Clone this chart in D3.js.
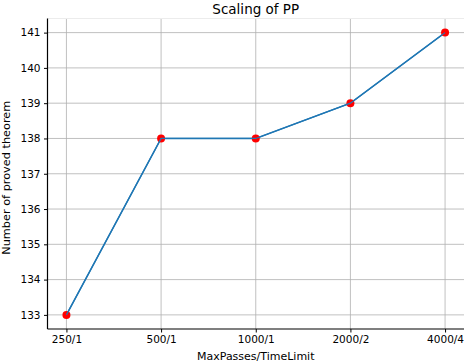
<!DOCTYPE html>
<html><head><meta charset="utf-8">
<script src="https://cdn.jsdelivr.net/npm/d3@7"></script>
<style>body{margin:0;background:#fff}svg{display:block}text{font-family:"DejaVu Sans",sans-serif;fill:#000}</style>
</head><body><svg id="c" width="466" height="364"></svg>
<script>
const categories = ["250/1","500/1","1000/1","2000/2","4000/4"];
const values = [133,138,138,139,141];
const yTicks = [133,134,135,136,137,138,139,140,141];
const title = "Scaling of PP";
const xLabel = "MaxPasses/TimeLimit";
const yLabel = "Number of proved theorem";

const svg = d3.select("#c");
const L = 47.5, R = 464, T = 18.5, B = 329;
const x = d3.scaleLinear().domain([-0.2, categories.length - 1 + 0.2]).range([L, R]);
const y = d3.scaleLinear().domain([132.6, 141.4]).range([B, T]);

// grid
svg.append("g").selectAll("line").data(categories).join("line")
  .attr("x1",(d,i)=>x(i)).attr("x2",(d,i)=>x(i)).attr("y1",T).attr("y2",B)
  .attr("stroke","#b0b0b0").attr("stroke-width",0.8);
svg.append("g").selectAll("line").data(yTicks).join("line")
  .attr("x1",L).attr("x2",R).attr("y1",d=>y(d)).attr("y2",d=>y(d))
  .attr("stroke","#b0b0b0").attr("stroke-width",0.8);

// faint top border
svg.append("line").attr("x1",L).attr("x2",R).attr("y1",T).attr("y2",T)
  .attr("stroke","#ececec").attr("stroke-width",1);

// line
const line = d3.line().x((d,i)=>x(i)).y(d=>y(d));
svg.append("path").datum(values).attr("d",line).attr("fill","none")
  .attr("stroke","#1f77b4").attr("stroke-width",1.5);
svg.append("g").selectAll("circle").data(values).join("circle")
  .attr("cx",(d,i)=>x(i)).attr("cy",d=>y(d)).attr("r",4).attr("fill","#ff0000");
svg.append("path").datum(values).attr("d",line).attr("fill","none")
  .attr("stroke","#1f77b4").attr("stroke-width",1.2);

// axes
const xAxis = d3.axisBottom(x).tickValues(d3.range(categories.length))
  .tickFormat(i=>categories[i]).tickSize(3.5).tickPadding(3.5).tickSizeOuter(0);
const gx = svg.append("g").attr("transform",`translate(0,${B})`).call(xAxis);
gx.select(".domain").attr("stroke","#000").attr("stroke-width",1.2).attr("d",`M${L},0H${R}`);
gx.selectAll("text").attr("font-size",10.5).attr("font-family","DejaVu Sans").attr("fill","#000");

const yAxis = d3.axisLeft(y).tickValues(yTicks).tickFormat(d3.format("d"))
  .tickSize(3.5).tickPadding(3.5).tickSizeOuter(0);
const gy = svg.append("g").attr("transform",`translate(${L},0)`).call(yAxis);
gy.select(".domain").attr("stroke","#000").attr("stroke-width",1.2).attr("d",`M0,${T}V${B}`);
gy.selectAll("text").attr("font-size",10.5).attr("font-family","DejaVu Sans").attr("fill","#000");

svg.append("text").attr("x",(L+R)/2).attr("y",14).attr("text-anchor","middle")
  .attr("font-size",13.5).text(title);
svg.append("text").attr("x",(L+R)/2).attr("y",360).attr("text-anchor","middle")
  .attr("font-size",11).text(xLabel);
svg.append("text").attr("transform",`translate(10,${(T+B)/2 + 4}) rotate(-90)`)
  .attr("text-anchor","middle").attr("font-size",11.3).text(yLabel);
</script></body></html>
